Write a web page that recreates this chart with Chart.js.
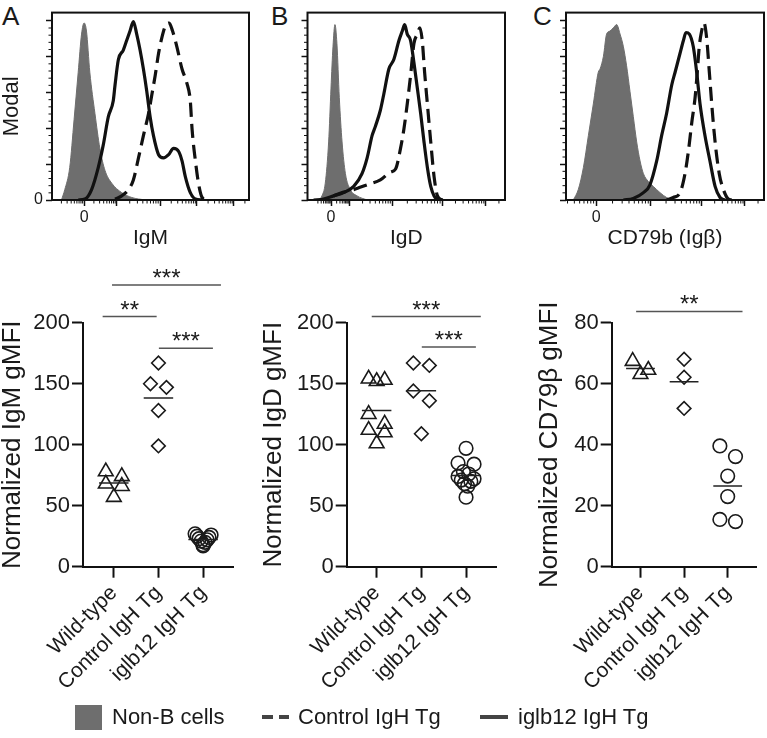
<!DOCTYPE html>
<html lang="en">
<head>
<meta charset="UTF-8">
<title>IgM, IgD and CD79b on B cells</title>
<script src="https://cdn.jsdelivr.net/npm/chart.js@4.4.1/dist/chart.umd.min.js"></script>
<style>
  html, body { margin: 0; padding: 0; background: #fff; }
  body { position: relative; width: 767px; height: 738px; overflow: hidden;
         font-family: "Liberation Sans", Arial, sans-serif; color: #1a1a1a; }
  canvas { position: absolute; }
  .letter { position: absolute; top: 1px; font-size: 26px; line-height: 30px; }
  .leg { position: absolute; top: 703px; font-size: 22px; line-height: 28px; }
  .sw { position: absolute; background: #6e6e6e; }
</style>
</head>
<body>
<div class="letter" style="left:2px">A</div>
<div class="letter" style="left:271px">B</div>
<div class="letter" style="left:533px">C</div>

<canvas id="histA" width="255" height="255" style="left:0;top:0"></canvas>
<canvas id="histB" width="252" height="255" style="left:255px;top:0"></canvas>
<canvas id="histC" width="257" height="255" style="left:510px;top:0"></canvas>

<canvas id="dotA" width="250" height="483" style="left:0;top:255px"></canvas>
<canvas id="dotB" width="252" height="483" style="left:255px;top:255px"></canvas>
<canvas id="dotC" width="257" height="483" style="left:510px;top:255px"></canvas>

<div class="sw" style="left:75px;top:705px;width:27px;height:25px"></div>
<div class="leg" style="left:112px">Non-B cells</div>
<div class="sw" style="left:262px;top:715px;width:11px;height:4px;background:#444"></div>
<div class="sw" style="left:279px;top:715px;width:10px;height:4px;background:#444"></div>
<div class="leg" style="left:298px">Control IgH Tg</div>
<div class="sw" style="left:480px;top:715px;width:28px;height:4px;background:#444"></div>
<div class="leg" style="left:518px">iglb12 IgH Tg</div>

<script>
// histograms: x = position along the channel axis (0-100), y = % of mode
const igmNonBX = [4.8, 6.5, 9, 11.2, 13.3, 15, 16.3, 17.5, 19.2, 21.8, 24.3, 26.9, 30.3, 35.4, 40.5, 47.3];
const igmNonBY = [0, 5.8, 18.2, 44.8, 71.3, 92.6, 98.8, 94.3, 71.3, 48.3, 28.8, 16.5, 9.4, 4.1, 1.4, 0];
const igmCtrlX = [32, 35.4, 38.8, 41.3, 43.9, 46.4, 49, 50.7, 52.4, 54.1, 55.8, 57.5, 59.5, 61.2, 63.4, 66, 68.5, 70.2, 71.1, 72.8, 74.5, 76.2, 78.7];
const igmCtrlY = [0.5, 2.3, 5.8, 11.2, 23.5, 35.9, 48.3, 58.9, 69.6, 81.9, 90.8, 97, 98.8, 94.3, 85.5, 73.1, 65.1, 55.4, 39.5, 21.8, 8.5, 1.4, 0];
const igmIglbX = [13.3, 16.7, 20.1, 23.5, 26, 28.6, 31.1, 32, 33.7, 36.2, 37.9, 39.6, 41.3, 43, 44.7, 46.4, 48.1, 49.8, 51.5, 54.1, 56.6, 59.2, 61.7, 64.3, 66, 67.7, 70.2, 72.8, 76.2];
const igmIglbY = [0, 0.5, 5.8, 18.2, 30.6, 46.5, 55.4, 64.2, 78.4, 83.7, 89, 94.3, 99.6, 92.6, 83.7, 73.1, 60.7, 46.5, 35.9, 25.3, 23.5, 25.3, 28.8, 27.1, 21.8, 12.9, 4.1, 0.5, 0];

const igdNonBX = [5.6, 7.3, 9, 10.7, 11.9, 12.9, 13.9, 14.9, 16.1, 17.5, 19.2, 21.7, 25.1, 30.2];
const igdNonBY = [0, 2.3, 9.4, 32.4, 62.5, 85.5, 97.9, 87.3, 57.2, 32.4, 14.7, 5.8, 2.3, 0];
const igdCtrlX = [13.2, 18.3, 23.4, 30.2, 36.9, 42, 44.6, 47.1, 48.8, 50.5, 52.2, 53.9, 55.6, 56.9, 58.1, 59.3, 60.7, 62.4, 64.1, 65.8, 68.3];
const igdCtrlY = [2.3, 4.4, 5.8, 8.5, 11.2, 15.6, 17.3, 28.8, 39.5, 53.6, 69.6, 87.3, 92.6, 96.1, 89, 71.3, 53.6, 32.4, 12.9, 2.3, 0];
const igdIglbX = [3.1, 8.1, 13.2, 18.3, 23.4, 27.6, 30.2, 32.7, 34.4, 36.9, 38.6, 41.2, 43.7, 46.3, 48, 49.2, 50.5, 52.2, 53.9, 55.6, 57.3, 59, 60.7, 62.4, 64.1, 65.8, 68.3];
const igdIglbY = [0, 0.5, 2.3, 4.1, 7.6, 14.7, 23.5, 35.9, 41.2, 50.1, 58.9, 73.1, 78.4, 89, 94.3, 97.9, 92.6, 89, 76.6, 62.5, 48.3, 32.4, 18.2, 7.6, 2.3, 0.5, 0];

const cd79NonBX = [3.7, 6.2, 8.8, 11.3, 13.8, 16.3, 17.2, 18.9, 20.5, 22.2, 23.9, 25.6, 27.3, 29, 30.6, 32.3, 34, 35.7, 37.4, 39.1, 41.6, 44.1, 47.5, 50.8, 55];
const cd79NonBY = [0, 5.8, 18.2, 35.9, 53.6, 71.3, 73.1, 80.2, 92.6, 94.3, 96.1, 97.9, 92.6, 85.5, 74.9, 60.7, 46.5, 32.4, 21.8, 14.7, 10.3, 7.6, 4.1, 1.4, 0];
const cd79CtrlX = [50.8, 54.2, 57.6, 60.1, 61.8, 63.5, 65.2, 66.3, 67.3, 68.5, 69.7, 71, 72.4, 73.6, 75.3, 77.4, 79.5, 82, 83.7];
const cd79CtrlY = [0, 1.4, 4.1, 14.7, 27.1, 43, 57.2, 71.3, 85.5, 94.3, 98.8, 90.8, 71.3, 53.6, 32.4, 14.7, 5.8, 0.5, 0];
const cd79IglbX = [29, 34, 39.1, 42.4, 45.8, 48.3, 50.8, 53.4, 55.1, 57.6, 59.3, 60.6, 62.3, 64.3, 66, 67.7, 70.2, 72.7, 75.3, 77.8, 80.3];
const cd79IglbY = [0, 0.9, 4.1, 8.5, 21.8, 35.9, 48.3, 64.2, 71.3, 81.9, 89, 93.5, 92.6, 85.5, 71.3, 53.6, 35.9, 21.8, 7.6, 1.4, 0];

// decade ticks on the histogram channel axes, first one is the "0" tick
const igmDecades = [16.3, 32.8, 54.9, 73.6, 92.3];
const igdDecades = [11.9, 21.4, 42.9, 68.3, 90.3];
const cd79Decades = [15.2, 42.8, 68.5, 90.4];

// dot plots
const groups = ['Wild-type', 'Control IgH Tg', 'iglb12 IgH Tg'];
const igmWT = [78, 74, 68, 66, 57];
const igmCtrl = [167, 150, 147, 128, 99];
const igmIglb = [27, 26, 25, 24, 23, 22, 21, 20, 18, 17];
const igdWT = [154, 153, 152, 125, 117, 112, 110, 101];
const igdCtrl = [167, 165, 144, 136, 109];
const igdIglb = [97, 85, 84, 78, 76, 74, 72, 71, 70, 68, 66, 57];
const cd79WT = [67.4, 64.5, 63.1];
const cd79Ctrl = [68, 62.1, 51.9];
const cd79Iglb = [39.6, 36.1, 29.7, 23, 15.5, 14.8];

// significance bars (x in group units)
const igmSigFrom = [-0.25, -0.04, 1.01];
const igmSigTo = [0.96, 2.4, 2.22];
const igmSigAt = [205, 231, 179];
const igmSigText = ['**', '***', '***'];
const igdSigFrom = [-0.11, 1.01];
const igdSigTo = [2.33, 2.22];
const igdSigAt = [205, 180];
const igdSigText = ['***', '***'];
const cd79SigFrom = [-0.1];
const cd79SigTo = [2.34];
const cd79SigAt = [83.7];
const cd79SigText = ['**'];

const INK = '#111';
const GRAY = '#6e6e6e';
const FONT = 'Liberation Sans';
const CAT_PX = 44.65;   // pixels between two groups
const PLOT_H = 244;     // pixels from 0 to the top tick

const frame = {
  id: 'frame',
  afterDatasetsDraw(chart) {
    const {ctx, chartArea: a} = chart;
    ctx.save();
    ctx.strokeStyle = INK;
    ctx.lineWidth = 2;
    ctx.strokeRect(a.left, a.top, a.right - a.left, a.bottom - a.top);
    ctx.restore();
  }
};

const minorTicks = {
  id: 'minorTicks',
  afterDraw(chart, args, o) {
    const {ctx, chartArea: a, scales: {x, y}} = chart;
    ctx.save();
    ctx.strokeStyle = INK;
    ctx.lineWidth = 1;
    ctx.beginPath();
    o.x.forEach(v => {
      const px = x.getPixelForValue(v);
      if (px > a.left + 1 && px < a.right - 1) { ctx.moveTo(px, a.bottom); ctx.lineTo(px, a.bottom + 3.5); }
    });
    o.y.forEach(v => {
      const py = y.getPixelForValue(v);
      if (py > a.top + 1) { ctx.moveTo(a.left, py); ctx.lineTo(a.left - 3.5, py); }
    });
    ctx.stroke();
    ctx.restore();
  }
};

const sig = {
  id: 'sig',
  afterDatasetsDraw(chart, args, o) {
    const {ctx, scales: {x, y}} = chart;
    ctx.save();
    ctx.strokeStyle = '#555';
    ctx.lineWidth = 1.5;
    ctx.fillStyle = '#1a1a1a';
    ctx.font = '24px "' + FONT + '"';
    ctx.textAlign = 'center';
    ctx.textBaseline = 'alphabetic';
    o.from.forEach((f, i) => {
      const x1 = x.getPixelForValue(f), x2 = x.getPixelForValue(o.to[i]);
      const py = y.getPixelForValue(o.at[i]);
      ctx.beginPath();
      ctx.moveTo(x1, py);
      ctx.lineTo(x2, py);
      ctx.stroke();
      ctx.fillText(o.text[i], (x1 + x2) / 2, py + 1);
    });
    ctx.restore();
  }
};

function logMinors(decades) {
  const m = decades.slice();
  m.unshift(m[0] - (m[1] - m[0]));
  m.push(m[m.length - 1] + (m[m.length - 1] - m[m.length - 2]));
  const out = [];
  for (let i = 0; i < m.length - 1; i++)
    for (let k = 2; k < 10; k++) out.push(m[i] + (m[i + 1] - m[i]) * Math.log10(k));
  return out;
}

const yMinors = [];
for (let v = 4; v < 100; v += 4) if (v % 20) yMinors.push(v);

function makeHist(id, nonB, ctrl, iglb, decades, title, yW, padRight, first) {
  const pts = (xs, ys) => xs.map((x, i) => ({x, y: ys[i]}));
  new Chart(document.getElementById(id), {
    type: 'scatter',
    data: {datasets: [
      {data: pts(iglb[0], iglb[1]), showLine: true, borderColor: INK, borderWidth: 3.2,
       pointRadius: 0, cubicInterpolationMode: 'monotone'},
      {data: pts(ctrl[0], ctrl[1]), showLine: true, borderColor: INK, borderWidth: 3.2, borderDash: [14, 7],
       pointRadius: 0, cubicInterpolationMode: 'monotone'},
      {data: pts(nonB[0], nonB[1]), showLine: true, borderColor: GRAY, borderWidth: 1, backgroundColor: GRAY,
       fill: 'origin', pointRadius: 0, cubicInterpolationMode: 'monotone'}
    ]},
    options: {
      responsive: false, animation: false, events: [],
      layout: {padding: {left: 0, top: 4, right: padRight, bottom: 0}},
      plugins: {legend: {display: false}, tooltip: {enabled: false},
                minorTicks: {x: logMinors(decades), y: yMinors}},
      scales: {
        x: {
          type: 'linear', min: 0, max: 100,
          afterBuildTicks: s => { s.ticks = decades.map(v => ({value: v})); },
          afterFit: s => { s.height = 55; },
          ticks: {callback: (v, i) => (i === 0 ? '0' : ''), autoSkip: false, maxRotation: 0,
                  padding: 2, color: '#1a1a1a', font: {family: FONT, size: 16}},
          grid: {drawOnChartArea: false, tickLength: 6, tickColor: INK, tickWidth: 1.5},
          border: {display: false},
          title: {display: true, text: title, color: '#1a1a1a', padding: {top: 0, bottom: 6},
                  font: {family: FONT, size: 21, lineHeight: 1}}
        },
        y: {
          min: 0, max: 104.6,
          afterBuildTicks: s => { s.ticks = [0, 20, 40, 60, 80, 100].map(v => ({value: v})); },
          afterFit: s => { s.width = yW; },
          ticks: {callback: v => (first && v === 0 ? '0' : ''), padding: 3, color: '#1a1a1a',
                  font: {family: FONT, size: 16}},
          grid: {drawOnChartArea: false, tickLength: 6, tickColor: INK, tickWidth: 1.5},
          border: {display: false},
          title: {display: first, text: 'Modal', color: '#1a1a1a', padding: {top: 1, bottom: 0},
                  font: {family: FONT, size: 22, lineHeight: 1}}
        }
      }
    },
    plugins: [frame, minorTicks]
  });
}

// spread points of one group sideways: values close in height share a row,
// a row is laid out left, right, then inwards
function swarm(vals, cat, pxPerUnit) {
  const order = vals.map((v, i) => i).sort((a, b) => vals[b] - vals[a]);
  const rows = [];
  order.forEach(i => {
    const row = rows[rows.length - 1];
    if (row && (vals[row[0]] - vals[i]) * pxPerUnit < 11) row.push(i);
    else rows.push([i]);
  });
  const out = [];
  rows.forEach(row => row.forEach((i, k) => {
    const n = row.length;
    const slot = k % 2 === 0 ? k / 2 : n - 1 - (k - 1) / 2;
    const dx = n === 1 ? 0 : -8 + 16 * slot / (n - 1);
    out.push({x: cat + dx / CAT_PX, y: vals[i]});
  }));
  return out;
}

function mean(vals) { return vals.reduce((s, v) => s + v, 0) / vals.length; }

function makeDots(id, sets, yMax, yStep, title, sigOpts, yW, padRight, xMin, titlePad) {
  const ppu = PLOT_H / yMax;
  const styles = [['triangle', 8.5], ['rectRot', 6.8], ['circle', 6.8]];
  const datasets = [];
  sets.forEach((vals, c) => {
    const m = mean(vals);
    datasets.push({data: [{x: c - 0.33, y: m}, {x: c + 0.33, y: m}], showLine: true,
                   borderColor: '#222', borderWidth: 1.5, pointRadius: 0});
  });
  sets.forEach((vals, c) => {
    datasets.push({data: swarm(vals, c, ppu), pointStyle: styles[c][0], pointRadius: styles[c][1],
                   borderColor: '#1a1a1a', borderWidth: 1.6, backgroundColor: 'rgba(0,0,0,0)'});
  });
  new Chart(document.getElementById(id), {
    type: 'scatter',
    data: {datasets},
    options: {
      responsive: false, animation: false, events: [],
      layout: {padding: {left: 0, top: 67.7, right: padRight, bottom: 0}},
      plugins: {legend: {display: false}, tooltip: {enabled: false}, sig: sigOpts},
      scales: {
        x: {
          type: 'linear', min: xMin, max: 2.67,
          afterBuildTicks: s => { s.ticks = groups.map((g, i) => ({value: i})); },
          afterFit: s => { s.height = 483 - 311.7; },
          ticks: {callback: v => groups[v], autoSkip: false, minRotation: 45, maxRotation: 45,
                  padding: 3, color: '#1a1a1a', font: {family: FONT, size: 21}},
          grid: {drawOnChartArea: false, tickLength: 11, tickColor: INK, tickWidth: 2},
          border: {color: INK, width: 2}
        },
        y: {
          min: 0, max: yMax,
          ticks: {stepSize: yStep, padding: 2, color: '#1a1a1a', font: {family: FONT, size: 22}},
          afterFit: s => { s.width = yW; },
          grid: {drawOnChartArea: false, tickLength: 11, tickColor: INK, tickWidth: 2},
          border: {color: INK, width: 2},
          title: {display: true, text: title, color: '#1a1a1a', padding: {top: titlePad, bottom: 0},
                  font: {family: FONT, size: 26, lineHeight: 1}}
        }
      }
    },
    plugins: [sig]
  });
}

makeHist('histA', [igmNonBX, igmNonBY], [igmCtrlX, igmCtrlY], [igmIglbX, igmIglbY], igmDecades, 'IgM', 52, 6, true);
makeHist('histB', [igdNonBX, igdNonBY], [igdCtrlX, igdCtrlY], [igdIglbX, igdIglbY], igdDecades, 'IgD', 52.5, 2, false);
makeHist('histC', [cd79NonBX, cd79NonBY], [cd79CtrlX, cd79CtrlY], [cd79IglbX, cd79IglbY], cd79Decades, 'CD79b (Igβ)', 56, 3, false);

makeDots('dotA', [igmWT, igmCtrl, igmIglb], 200, 50, 'Normalized IgM gMFI',
  {from: igmSigFrom, to: igmSigTo, at: igmSigAt, text: igmSigText}, 83, 17, -0.69, 0);
makeDots('dotB', [igdWT, igdCtrl, igdIglb], 200, 50, 'Normalized IgD gMFI',
  {from: igdSigFrom, to: igdSigTo, at: igdSigAt, text: igdSigText}, 91.7, 11, -0.67, 6);
makeDots('dotC', [cd79WT, cd79Ctrl, cd79Iglb], 80, 20, 'Normalized CD79β gMFI',
  {from: cd79SigFrom, to: cd79SigTo, at: cd79SigAt, text: cd79SigText}, 101.7, 7, -0.66, 27);
</script>
</body>
</html>
